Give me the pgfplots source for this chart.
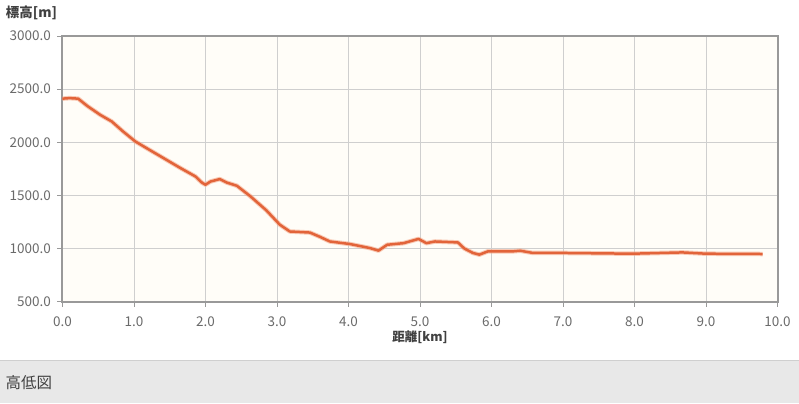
\documentclass[border=0pt]{standalone}
\usepackage{fontspec}
\setmainfont{Noto Sans CJK JP}
\usepackage{pgfplots}
\pgfplotsset{compat=1.18}

\definecolor{plotbg}{HTML}{FFFDF8}
\definecolor{gridc}{HTML}{CFCFCF}
\definecolor{framec}{HTML}{999999}
\definecolor{tickc}{HTML}{6A6A6A}
\definecolor{curve}{HTML}{E2643A}
\definecolor{halo}{HTML}{F5A98A}
\definecolor{band}{HTML}{E8E8E8}

\begin{document}
\begin{tikzpicture}[x=1pt,y=1pt]
% page and footer band
\fill[white] (0,0) rectangle (799,404);
\fill[band] (0,0) rectangle (799,43);
\draw[line width=1pt, color=gridc] (0,43) -- (799,43);
\node[anchor=west, inner sep=0pt, font=\fontsize{15.5}{17}\selectfont, text=black!75] at (5,21) {高低図};

\begin{axis}[
    name=ax,
    at={(62pt,102pt)}, anchor=south west,
    scale only axis,
    width=716pt, height=266pt,
    xmin=0, xmax=10, ymin=500, ymax=3000,
    xtick={0,1,...,10}, ytick={500,1000,...,3000},
    axis background/.style={fill=plotbg},
    grid=major,
    major grid style={gridc, line width=0.8pt},
    axis line style={framec, line width=2pt},
    tick align=outside, tick pos=left,
    major tick length=5pt,
    every tick/.style={framec, line width=0.8pt},
    ticklabel style={font=\fontsize{13.5}{15}\selectfont, text=tickc},
    /pgf/number format/assume math mode=true,
    /pgf/number format/.cd, fixed, fixed zerofill, precision=1, 1000 sep={},
    /tikz/.cd,
    xticklabel style={yshift=-7pt},
    yticklabel style={xshift=-3pt},
]
\addplot[halo, line width=4.5pt, line join=round, opacity=0.6] coordinates {
(0,2410)(0.1,2415)(0.22,2410)(0.35,2340)(0.53,2257)(0.69,2195)(0.85,2100)
(1.02,2007)(1.2,1935)(1.4,1856)(1.65,1757)(1.86,1678)(1.95,1620)(2.0,1600)
(2.07,1630)(2.2,1653)(2.3,1620)(2.44,1590)(2.63,1490)(2.85,1360)(3.04,1224)
(3.18,1160)(3.46,1150)(3.6,1110)(3.74,1066)(4.02,1042)(4.3,1004)(4.42,980)
(4.54,1035)(4.77,1050)(4.98,1090)(5.09,1050)(5.21,1066)(5.53,1057)(5.62,1000)
(5.74,958)(5.83,942)(5.95,973)(6.3,973)(6.4,979)(6.58,958)(7.0,958)
(7.97,951)(8.67,963)(9.0,951)(9.79,948)
};
\addplot[curve, line width=2.5pt, line join=round] coordinates {
(0,2410)(0.1,2415)(0.22,2410)(0.35,2340)(0.53,2257)(0.69,2195)(0.85,2100)
(1.02,2007)(1.2,1935)(1.4,1856)(1.65,1757)(1.86,1678)(1.95,1620)(2.0,1600)
(2.07,1630)(2.2,1653)(2.3,1620)(2.44,1590)(2.63,1490)(2.85,1360)(3.04,1224)
(3.18,1160)(3.46,1150)(3.6,1110)(3.74,1066)(4.02,1042)(4.3,1004)(4.42,980)
(4.54,1035)(4.77,1050)(4.98,1090)(5.09,1050)(5.21,1066)(5.53,1057)(5.62,1000)
(5.74,958)(5.83,942)(5.95,973)(6.3,973)(6.4,979)(6.58,958)(7.0,958)
(7.97,951)(8.67,963)(9.0,951)(9.79,948)
};
\end{axis}
\node[font=\bfseries\fontsize{13.5}{15}\selectfont, text=black!75] at ([shift={(-31pt,23pt)}]ax.north west) {標高[m]};
\node[font=\bfseries\fontsize{12.5}{14}\selectfont, text=black!75] at ([shift={(0pt,-36pt)}]ax.south) {距離[km]};
\end{tikzpicture}
\end{document}
